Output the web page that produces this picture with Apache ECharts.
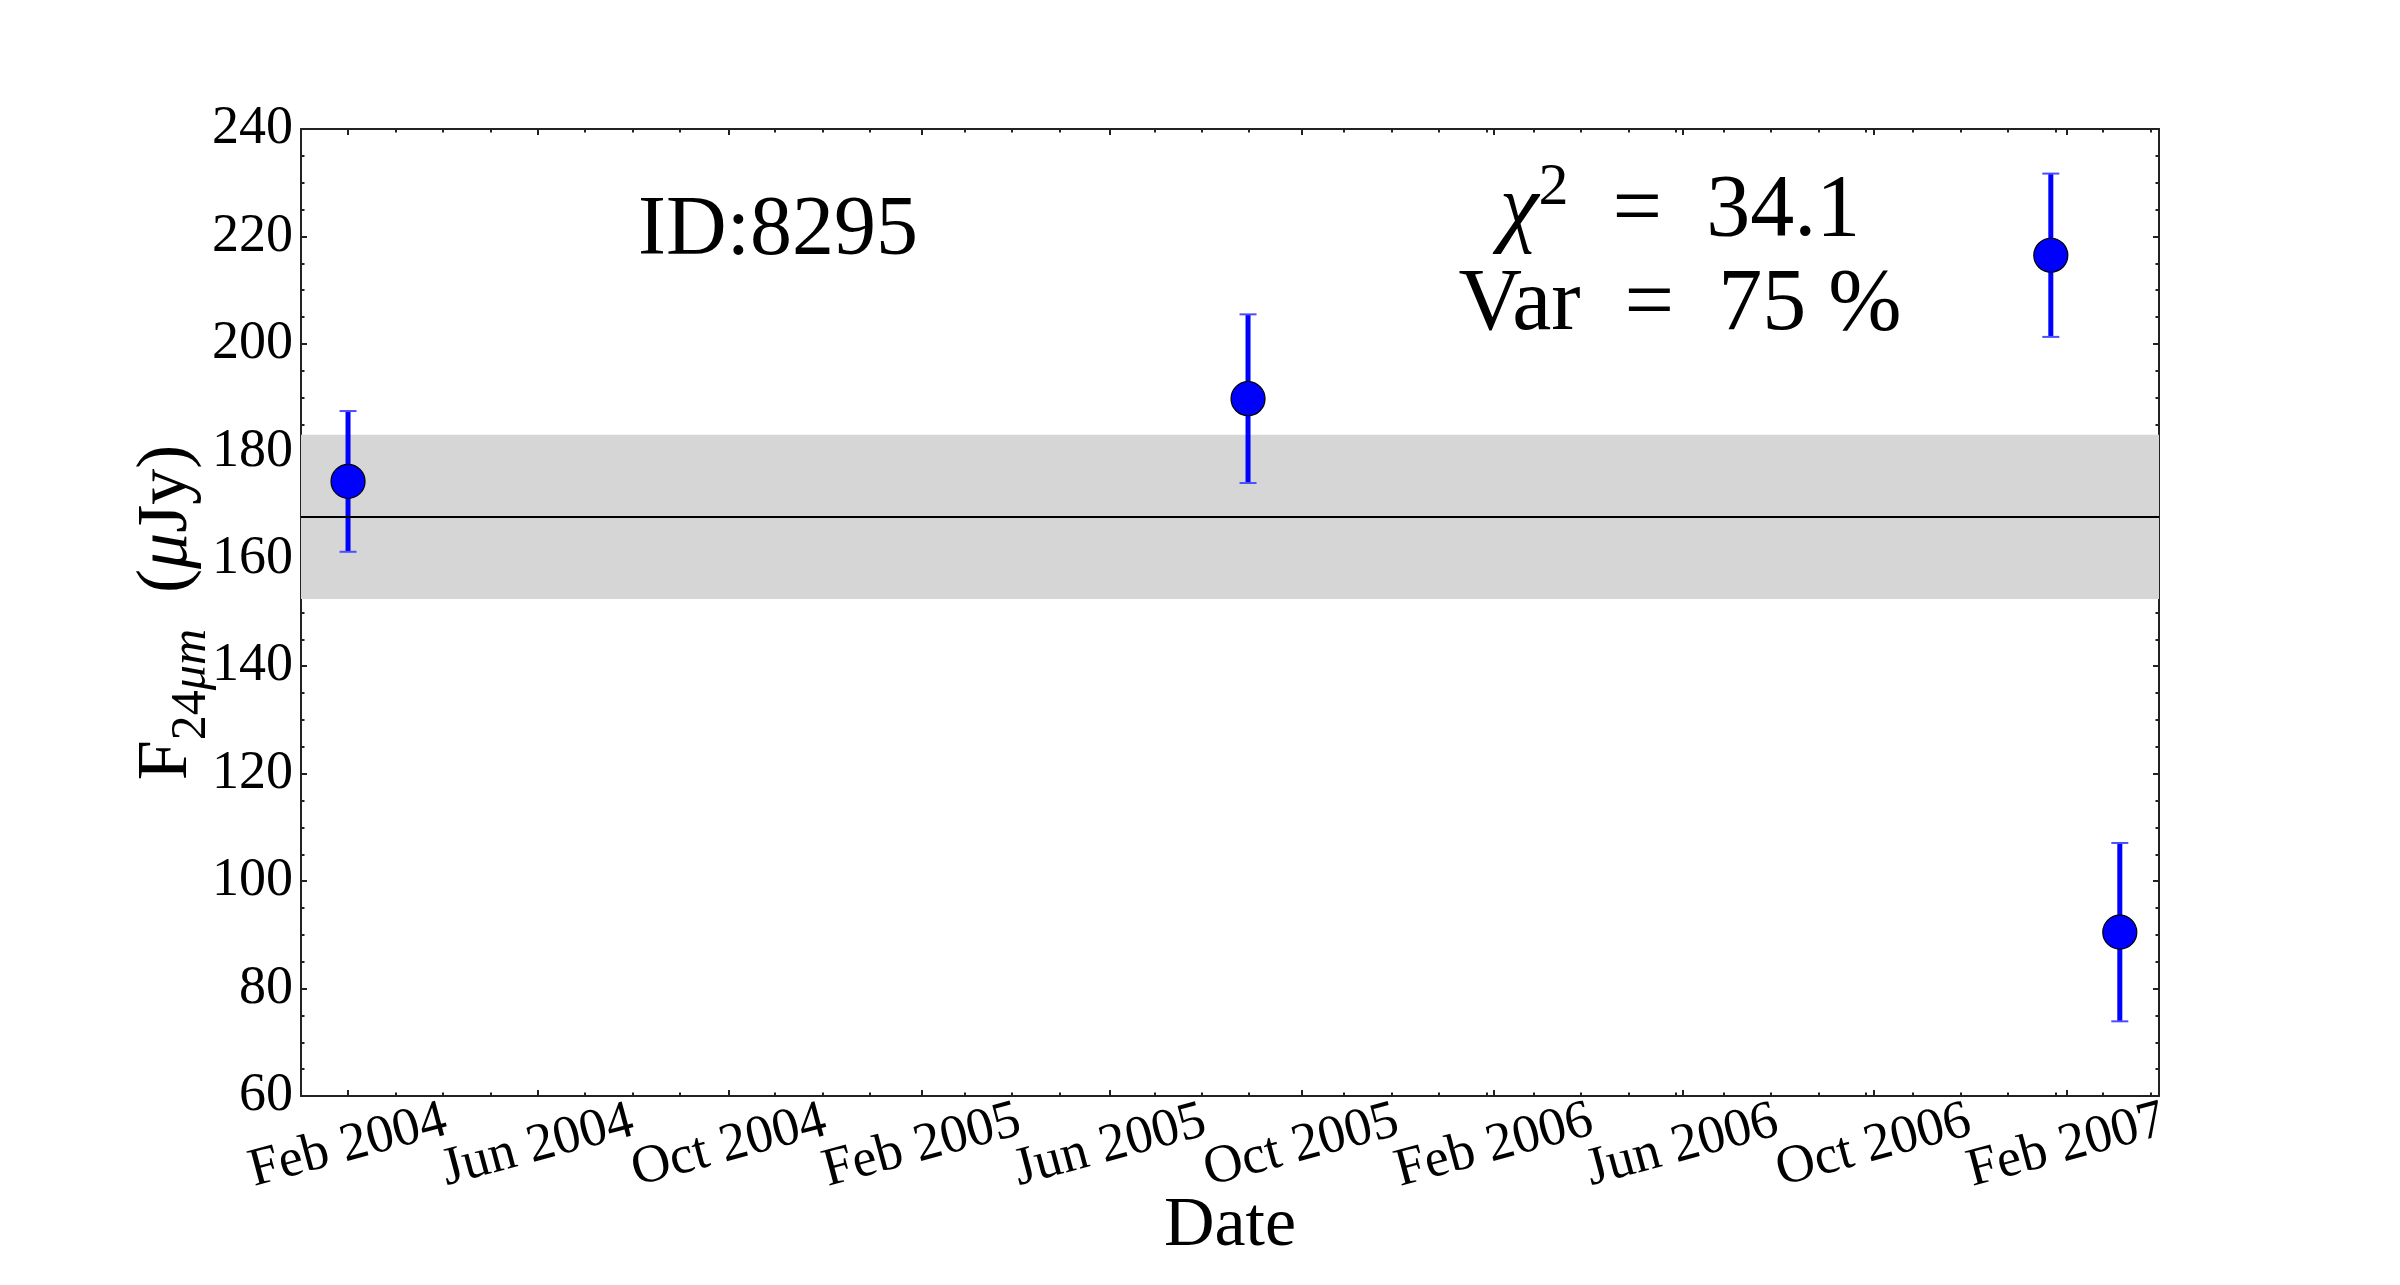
<!DOCTYPE html>
<html><head><meta charset="utf-8">
<script src="https://cdn.jsdelivr.net/npm/echarts@6/dist/echarts.min.js"></script>
<style>html,body{margin:0;padding:0;background:#fff}#c{width:2400px;height:1285px}</style>
</head><body><div id="c"></div>
<script>
// ---- data ----
const obsDates = ['2004-02-01', '2005-08-28', '2007-01-22', '2007-03-07'];
const fluxValues = [174.4, 189.8, 216.5, 90.5];
const fluxErrors = [13.1, 15.7, 15.2, 16.6];
const meanFlux = 167.8;
const bandLow = 152.5;
const bandHigh = 183.1;
const xTickDates = ['2004-02-01', '2004-06-01', '2004-10-01', '2005-02-01', '2005-06-01',
  '2005-10-01', '2006-02-01', '2006-06-01', '2006-10-01', '2007-02-01'];
const xRange = ['2004-01-02', '2007-04-01'];
const yRange = [60, 240];
const yStep = 20;
const xTitle = 'Date';
const idLabel = 'ID:8295';
const chi2Label = '34.1';
const varLabel = '75';

// ---- helpers ----
const MONTHS = ['Jan','Feb','Mar','Apr','May','Jun','Jul','Aug','Sep','Oct','Nov','Dec'];
const ts = s => Date.parse(s + 'T00:00:00Z');
const DAY = 86400000;
const xMin = ts(xRange[0]), xMax = ts(xRange[1]);
const majorTicks = xTickDates.map(ts);
const minorStep = (majorTicks[1] - majorTicks[0]) / 4;
const minorTicks = [];
for (let k = Math.ceil((xMin - majorTicks[0]) / minorStep); majorTicks[0] + k * minorStep <= xMax; k++) {
  const v = majorTicks[0] + k * minorStep;
  if (v < xMin) continue;
  if (majorTicks.some(m => Math.abs(m - v) < 4 * DAY)) continue;
  minorTicks.push(v);
}
// labels split over two overlapping axes so neighbouring labels are not auto-hidden
const labelsA = majorTicks.filter((v, i) => i % 2 === 0);
const labelsB = majorTicks.filter((v, i) => i % 2 === 1);
const FONT = 'Liberation Serif';
const AX = '#222';

const errData = obsDates.map((d, i) => [ts(d), fluxValues[i] - fluxErrors[i], fluxValues[i] + fluxErrors[i]]);
const ptData = obsDates.map((d, i) => [ts(d), fluxValues[i]]);

function xAxisDef(pos, ticks, len, withLine, labels, withName) {
  const ax = {
    type: 'value', position: pos, min: xMin, max: xMax,
    axisLine: { show: withLine, onZero: false, lineStyle: { color: AX, width: 2 } },
    axisTick: { show: true, inside: true, length: len, customValues: ticks, lineStyle: { color: AX, width: 2 } },
    axisLabel: labels ? {
      show: true, customValues: labels, rotate: 15, align: 'center', verticalAlign: 'middle', margin: 50,
      showMinLabel: true, showMaxLabel: true, hideOverlap: false,
      fontFamily: FONT, fontSize: 54, color: '#000',
      formatter: v => { const d = new Date(v); return MONTHS[d.getUTCMonth()] + ' ' + d.getUTCFullYear(); }
    } : { show: false },
    splitLine: { show: false }
  };
  if (withName) {
    ax.name = xTitle;
    ax.nameLocation = 'middle';
    ax.nameGap = 96;
    ax.nameMoveOverlap = false;
    ax.nameTextStyle = { fontFamily: FONT, fontSize: 70, color: '#000' };
  }
  return ax;
}
function yAxisDef(pos, withLabel) {
  const ax = {
    type: 'value', position: pos, min: yRange[0], max: yRange[1], interval: yStep,
    axisLine: { show: true, onZero: false, lineStyle: { color: AX, width: 2 } },
    axisTick: { show: true, inside: true, length: 6, lineStyle: { color: AX, width: 2 } },
    minorTick: { show: true, splitNumber: 4, length: 3.5, lineStyle: { color: AX, width: 2 } },
    axisLabel: withLabel ? { show: true, margin: 8, fontFamily: FONT, fontSize: 54, color: '#000',
      showMinLabel: true, showMaxLabel: true, hideOverlap: false } : { show: false },
    splitLine: { show: false }, minorSplitLine: { show: false }
  };
  if (withLabel) {
    ax.name = '{m|F}{s|24}{si|μm}{m|  (}{mi|μ}{m|Jy)}';
    ax.nameLocation = 'middle';
    ax.nameRotate = 90;
    ax.nameGap = 84;
    ax.nameMoveOverlap = false;
    ax.nameTextStyle = {
      fontFamily: FONT, color: '#000',
      rich: {
        m: { fontFamily: FONT, fontSize: 72, color: '#000', verticalAlign: 'bottom', padding: [0, 0, 14, 0] },
        mi: { fontFamily: FONT, fontSize: 72, fontStyle: 'italic', color: '#000', verticalAlign: 'bottom', padding: [0, 0, 14, 0] },
        s: { fontFamily: FONT, fontSize: 50, color: '#000', verticalAlign: 'bottom' },
        si: { fontFamily: FONT, fontSize: 50, fontStyle: 'italic', color: '#000', verticalAlign: 'bottom' }
      }
    };
  }
  return ax;
}

const chart = echarts.init(document.getElementById('c'), null, { renderer: 'canvas' });
chart.setOption({
  animation: false,
  backgroundColor: '#fff',
  grid: { left: 301, right: 241, top: 129, bottom: 189, containLabel: false },
  xAxis: [
    xAxisDef('bottom', majorTicks, 6, true, labelsA, true),
    xAxisDef('bottom', minorTicks, 3.5, false, labelsB, false),
    xAxisDef('top', majorTicks, 6, true, null, false),
    xAxisDef('top', minorTicks, 3.5, false, null, false)
  ],
  yAxis: [yAxisDef('left', true), yAxisDef('right', false)],
  graphic: [
    { type: 'text', x: 778, y: 232, z: 100,
      style: { text: idLabel, x: 0, y: 0, align: 'center', verticalAlign: 'middle',
        fontFamily: FONT, fontSize: 84, fill: '#000' } },
    { type: 'text', x: 1680, y: 207, z: 100,
      style: { text: '{i|χ}{sup|2}{n|  =  ' + chi2Label + '}', align: 'center', verticalAlign: 'middle',
        fontFamily: FONT, fontSize: 88, fill: '#000',
        rich: {
          i: { fontFamily: FONT, fontSize: 88, fontStyle: 'italic', fill: '#000', verticalAlign: 'bottom' },
          sup: { fontFamily: FONT, fontSize: 60, fill: '#000', verticalAlign: 'bottom', padding: [0, 0, 38, 0] },
          n: { fontFamily: FONT, fontSize: 88, fill: '#000', verticalAlign: 'bottom' }
        } } },
    { type: 'text', x: 1680, y: 306, z: 100,
      style: { text: 'Var  =  ' + varLabel + ' %', align: 'center', verticalAlign: 'middle',
        fontFamily: FONT, fontSize: 88, fill: '#000' } }
  ],
  series: [
    { type: 'line', data: [], z: 1, silent: true,
      markArea: { silent: true, itemStyle: { color: '#d6d6d6' },
        data: [[{ yAxis: bandLow }, { yAxis: bandHigh }]] } },
    { type: 'line', data: [], z: 2, silent: true,
      markLine: { silent: true, symbol: ['none', 'none'], label: { show: false },
        lineStyle: { color: '#000', width: 2, type: 'solid' },
        data: [{ yAxis: meanFlux }] } },
    { type: 'custom', data: errData, z: 3, silent: true,
      encode: { x: 0, y: [1, 2] },
      renderItem: function (params, api) {
        const x = api.value(0);
        const pLo = api.coord([x, api.value(1)]);
        const pHi = api.coord([x, api.value(2)]);
        const cap = 8.5;
        return { type: 'group', children: [
          { type: 'line', shape: { x1: pHi[0], y1: pHi[1], x2: pLo[0], y2: pLo[1] }, style: { stroke: '#0000ff', lineWidth: 5 } },
          { type: 'line', shape: { x1: pHi[0] - cap, y1: pHi[1], x2: pHi[0] + cap, y2: pHi[1] }, style: { stroke: '#4d4dff', lineWidth: 2 } },
          { type: 'line', shape: { x1: pLo[0] - cap, y1: pLo[1], x2: pLo[0] + cap, y2: pLo[1] }, style: { stroke: '#4d4dff', lineWidth: 2 } }
        ] };
      } },
    { type: 'scatter', data: ptData, z: 4, symbol: 'circle', symbolSize: 34,
      itemStyle: { color: '#0000ff', borderColor: '#000', borderWidth: 1.2, opacity: 1 } }
  ]
});
</script></body></html>
